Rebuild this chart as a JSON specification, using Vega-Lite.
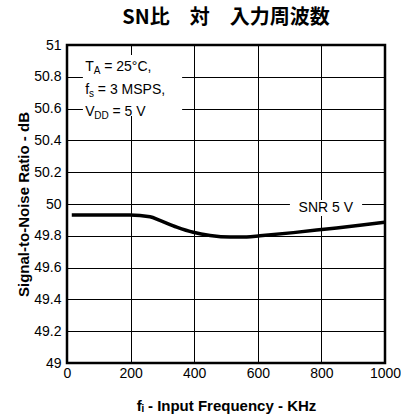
{
  "$schema": "https://vega.github.io/schema/vega-lite/v6.json",
  "width": 318,
  "height": 318,
  "autosize": {"type": "none"},
  "padding": {"left": 67, "top": 45, "right": 16, "bottom": 56},
  "background": "white",
  "title": {
    "text": "SN比　対　入力周波数",
    "font": "Noto Sans CJK JP",
    "fontSize": 20,
    "fontWeight": "bold",
    "color": "black",
    "anchor": "middle",
    "baseline": "bottom",
    "offset": -10
  },
  "config": {
    "view": {"stroke": "black", "strokeWidth": 2.5},
    "axis": {
      "labelFont": "Liberation Sans",
      "labelFontSize": 14,
      "labelColor": "black",
      "titleFont": "Liberation Sans",
      "titleFontSize": 15,
      "titleFontWeight": "bold",
      "titleColor": "black",
      "grid": true,
      "gridColor": "black",
      "gridWidth": 1,
      "gridOpacity": 1,
      "domain": false,
      "ticks": false,
      "labelFlush": false,
      "labelBound": false,
      "labelOverlap": false
    },
    "axisX": {"tickCount": 5, "format": "d", "labelPadding": 3, "titlePadding": 18},
    "axisY": {"tickCount": 10, "format": ".1~f", "labelPadding": 6, "titlePadding": 2}
  },
  "datasets": {
    "curve": [
      {"freq": 15, "snr": 49.931},
      {"freq": 100, "snr": 49.931},
      {"freq": 198, "snr": 49.931},
      {"freq": 261, "snr": 49.92},
      {"freq": 292, "snr": 49.897},
      {"freq": 345, "snr": 49.855},
      {"freq": 397, "snr": 49.822},
      {"freq": 450, "snr": 49.802},
      {"freq": 513, "snr": 49.792},
      {"freq": 565, "snr": 49.793},
      {"freq": 607, "snr": 49.8},
      {"freq": 712, "snr": 49.82},
      {"freq": 817, "snr": 49.843},
      {"freq": 921, "snr": 49.866},
      {"freq": 1000, "snr": 49.885}
    ],
    "boxes": [
      {"x1": 50, "x2": 362, "y1": 50.553, "y2": 50.937},
      {"x1": 701, "x2": 928, "y1": 49.925, "y2": 50.025}
    ],
    "conds": [
      {"main": "T", "mx": 57, "sub": "A", "sx": 84, "rest": "= 25°C,", "rx": 117, "y": 50.862},
      {"main": "f", "mx": 57, "sub": "s", "sx": 69, "rest": "= 3 MSPS,", "rx": 97, "y": 50.72},
      {"main": "V", "mx": 57, "sub": "DD", "sx": 86, "rest": "= 5 V", "rx": 143, "y": 50.58}
    ],
    "series": [
      {"label": "SNR 5 V", "lx": 814, "ly": 49.975}
    ]
  },
  "layer": [
    {
      "data": {"name": "boxes"},
      "mark": {"type": "rect", "fill": "white"},
      "encoding": {
        "x": {
          "field": "x1", "type": "quantitative",
          "scale": {"domain": [0, 1000], "nice": false},
          "title": "fᵢ - Input Frequency - KHz"
        },
        "x2": {"field": "x2"},
        "y": {
          "field": "y1", "type": "quantitative",
          "scale": {"domain": [49, 51], "nice": false, "zero": false},
          "title": "Signal-to-Noise Ratio - dB"
        },
        "y2": {"field": "y2"}
      }
    },
    {
      "data": {"name": "curve"},
      "mark": {"type": "line", "color": "black", "strokeWidth": 3.5, "interpolate": "monotone"},
      "encoding": {
        "x": {"field": "freq", "type": "quantitative", "title": "fᵢ - Input Frequency - KHz"},
        "y": {"field": "snr", "type": "quantitative", "title": "Signal-to-Noise Ratio - dB"}
      }
    },
    {
      "data": {"name": "conds"},
      "mark": {"type": "text", "font": "Liberation Sans", "fontSize": 14, "align": "left", "baseline": "middle", "color": "black"},
      "encoding": {
        "x": {"field": "mx", "type": "quantitative", "title": "fᵢ - Input Frequency - KHz"},
        "y": {"field": "y", "type": "quantitative", "title": "Signal-to-Noise Ratio - dB"},
        "text": {"field": "main"}
      }
    },
    {
      "data": {"name": "conds"},
      "mark": {"type": "text", "font": "Liberation Sans", "fontSize": 10, "align": "left", "baseline": "middle", "dy": 4, "color": "black"},
      "encoding": {
        "x": {"field": "sx", "type": "quantitative", "title": "fᵢ - Input Frequency - KHz"},
        "y": {"field": "y", "type": "quantitative", "title": "Signal-to-Noise Ratio - dB"},
        "text": {"field": "sub"}
      }
    },
    {
      "data": {"name": "conds"},
      "mark": {"type": "text", "font": "Liberation Sans", "fontSize": 14, "align": "left", "baseline": "middle", "color": "black"},
      "encoding": {
        "x": {"field": "rx", "type": "quantitative", "title": "fᵢ - Input Frequency - KHz"},
        "y": {"field": "y", "type": "quantitative", "title": "Signal-to-Noise Ratio - dB"},
        "text": {"field": "rest"}
      }
    },
    {
      "data": {"name": "series"},
      "mark": {"type": "text", "font": "Liberation Sans", "fontSize": 14, "align": "center", "baseline": "middle", "color": "black"},
      "encoding": {
        "x": {"field": "lx", "type": "quantitative", "title": "fᵢ - Input Frequency - KHz"},
        "y": {"field": "ly", "type": "quantitative", "title": "Signal-to-Noise Ratio - dB"},
        "text": {"field": "label"}
      }
    }
  ]
}
